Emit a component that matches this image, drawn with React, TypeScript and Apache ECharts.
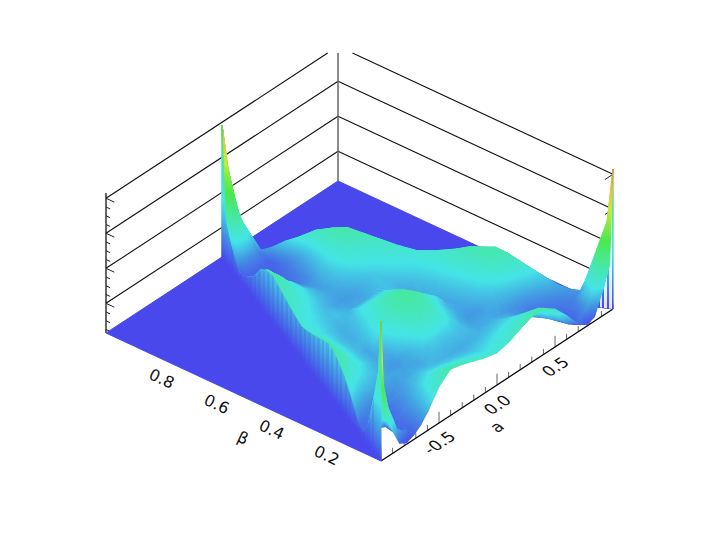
import React, { useEffect, useRef } from "react";
import * as echarts from "echarts";

// --- axis labels and ticks -------------------------------------------------
const aTickLabels = ["-0.5", "0.0", "0.5"];
const aMajorTicks = [-0.5, 0, 0.5];
const aMinorTicks = [-0.9, -0.8, -0.7, -0.6, -0.4, -0.3, -0.2, -0.1, 0.1, 0.2, 0.3, 0.4, 0.6, 0.7, 0.8, 0.9];
const betaTickLabels = ["0.8", "0.6", "0.4", "0.2"];
const betaTicks = [0.8, 0.6, 0.4, 0.2];
const zMajorTicks = [0.212, 0.462, 0.7125, 0.9625];
const zMinorTicks = [0.025, 0.0875, 0.15, 0.275, 0.3375, 0.4, 0.525, 0.5875, 0.65, 0.775, 0.8375, 0.9];

// --- surface samples: rows are beta, columns run across the triangle (u) ---
const betaRows = [0, 0.015, 0.04, 0.08, 0.11, 0.14, 0.17, 0.2, 0.235, 0.27, 0.3, 0.33, 0.365, 0.4, 0.45, 0.5, 0.55, 0.6, 0.64, 0.68, 0.72, 0.76, 0.8, 0.84, 0.87, 0.9, 0.95, 0.98, 1];
const uCols = [0, 0.015, 0.04, 0.08, 0.11, 0.14, 0.17, 0.2, 0.25, 0.3, 0.35, 0.4, 0.45, 0.5, 0.55, 0.6, 0.65, 0.7, 0.75, 0.8, 0.83, 0.86, 0.89, 0.92, 0.96, 0.985, 1];
const zRows = [
  [1, .30, .20, .04, .01, .03, .07, .13, .26, .33, .31, .28, .25, .23, .25, .29, .325, .33, .27, .17, .10, .04, .01, .03, .20, .33, 1],
  [.62, .55, .32, .12, .07, .035, .07, .13, .25, .32, .30, .27, .24, .225, .24, .27, .30, .32, .25, .13, .07, .035, .07, .12, .32, .55, .62],
  [.42, .33, .19, .07, .04, .045, .074, .122, .226, .282, .266, .242, .218, .202, .218, .242, .266, .282, .226, .122, .074, .045, .04, .07, .19, .33, .42],
  [.14, .12, .08, .05, .045, .055, .079, .112, .184, .222, .211, .195, .178, .167, .178, .195, .211, .222, .184, .112, .079, .055, .045, .05, .07, .09, .10],
  [.04, .04, .06, .04, .045, .05, .07, .10, .15, .181, .174, .162, .151, .143, .151, .162, .174, .181, .15, .10, .07, .055, .05, .06, .08, .095, .10],
  [.05, .05, .06, .055, .055, .063, .08, .097, .13, .15, .145, .137, .13, .125, .13, .137, .145, .15, .13, .097, .08, .063, .065, .08, .10, .115, .12],
  [.12, .115, .095, .085, .083, .088, .09, .098, .116, .126, .123, .143, .144, .141, .144, .143, .123, .126, .116, .098, .09, .088, .09, .11, .135, .155, .16],
  [.20, .195, .165, .14, .14, .13, .122, .12, .118, .115, .118, .152, .168, .166, .168, .152, .118, .115, .118, .12, .122, .13, .14, .155, .18, .195, .20],
  [.27, .26, .235, .204, .185, .166, .15, .132, .105, .10, .13, .18, .235, .25, .235, .18, .13, .10, .105, .132, .15, .166, .19, .21, .235, .25, .25],
  [.32, .31, .285, .244, .22, .193, .165, .143, .117, .12, .165, .215, .285, .30, .285, .215, .165, .12, .117, .143, .165, .193, .225, .25, .285, .295, .30],
  [.35, .34, .30, .256, .218, .19, .165, .145, .12, .14, .195, .25, .31, .33, .31, .25, .195, .14, .12, .145, .165, .19, .218, .256, .30, .325, .33],
  [.355, .345, .30, .25, .217, .19, .166, .144, .12, .18, .23, .28, .33, .355, .33, .28, .23, .18, .12, .144, .166, .19, .217, .25, .29, .315, .32],
  [.33, .32, .285, .24, .21, .185, .162, .144, .139, .165, .22, .265, .31, .33, .31, .265, .22, .165, .139, .144, .162, .185, .21, .24, .275, .30, .31],
  [.30, .295, .27, .229, .20, .177, .157, .141, .13, .15, .19, .24, .28, .29, .28, .24, .19, .15, .13, .141, .157, .177, .20, .229, .26, .275, .28],
  [.26, .255, .235, .207, .19, .175, .16, .147, .13, .14, .157, .20, .20, .20, .20, .20, .157, .14, .13, .147, .16, .175, .19, .207, .23, .248, .25],
  [.23, .228, .22, .20, .195, .186, .176, .165, .15, .155, .143, .132, .123, .125, .123, .132, .143, .155, .15, .165, .176, .186, .195, .20, .22, .228, .23],
  [.25, .25, .24, .227, .216, .204, .193, .18, .164, .144, .13, .115, .108, .105, .108, .115, .13, .144, .164, .18, .193, .204, .216, .227, .24, .25, .25],
  [.28, .278, .27, .26, .246, .23, .222, .21, .19, .168, .15, .134, .123, .118, .123, .134, .15, .168, .19, .21, .222, .23, .246, .26, .27, .278, .28],
  [.305, .305, .29, .284, .27, .26, .245, .234, .208, .182, .158, .14, .12, .11, .12, .14, .158, .182, .208, .234, .245, .26, .27, .284, .29, .305, .305],
  [.33, .33, .325, .306, .287, .267, .244, .224, .20, .173, .145, .12, .105, .095, .105, .12, .145, .173, .20, .224, .244, .267, .287, .306, .325, .33, .33],
  [.31, .31, .30, .274, .253, .226, .20, .18, .15, .127, .103, .08, .078, .07, .078, .08, .103, .127, .15, .18, .20, .226, .253, .274, .30, .31, .31],
  [.257, .25, .235, .205, .18, .16, .14, .125, .105, .085, .07, .06, .052, .05, .052, .06, .07, .085, .105, .125, .14, .16, .18, .205, .26, .28, .28],
  [.15, .145, .13, .115, .105, .095, .085, .075, .065, .055, .048, .042, .04, .04, .04, .042, .048, .055, .065, .075, .085, .10, .115, .14, .19, .215, .22],
  [.09, .085, .07, .055, .05, .048, .045, .04, .035, .03, .03, .03, .03, .03, .03, .03, .03, .03, .035, .04, .045, .06, .07, .09, .13, .16, .17],
  [.05, .05, .04, .03, .03, .03, .032, .034, .036, .04, .04, .04, .04, .04, .04, .04, .04, .04, .036, .034, .032, .04, .05, .06, .09, .11, .12],
  [.04, .04, .05, .06, .065, .07, .075, .08, .085, .09, .09, .09, .09, .09, .09, .09, .09, .09, .085, .08, .075, .07, .065, .06, .07, .08, .085],
  [.18, .20, .22, .26, .28, .30, .32, .33, .35, .36, .37, .38, .38, .38, .38, .38, .37, .36, .35, .33, .32, .30, .28, .27, .27, .28, .28],
  [.30, .33, .38, .45, .49, .52, .54, .56, .60, .62, .64, .65, .655, .66, .655, .65, .64, .62, .60, .56, .54, .52, .49, .47, .47, .49, .50],
  [.94, .94, .94, .94, .94, .94, .94, .94, .94, .94, .94, .94, .94, .94, .94, .94, .94, .94, .94, .94, .94, .94, .94, .94, .94, .94, .94],
];

const colorStops = [
  { offset: 0, color: "#4848EC" },
  { offset: 0.1, color: "#4298E2" },
  { offset: 0.2, color: "#44E4E6" },
  { offset: 0.33, color: "#46E8A8" },
  { offset: 0.5, color: "#4CE84C" },
  { offset: 0.7, color: "#C8E83C" },
  { offset: 0.85, color: "#EEC040" },
  { offset: 1, color: "#EE8040" },
];

// --- oblique projection of the box (a, beta, z) onto the page ---------------
const F = [381, 461];
const R = [613, 309];
const L = [106, 333];
const Z_PX = 140;
const CLIP_TOP = 53;
function floorY(a: number, b: number) {
  const t = (a + 1) / 2;
  return F[1] + t * (R[1] - F[1]) + b * (L[1] - F[1]);
}
function project(a: number, b: number, z: number) {
  const t = (a + 1) / 2;
  return [F[0] + t * (R[0] - F[0]) + b * (L[0] - F[0]), floorY(a, b) - z * Z_PX];
}
function clipLine(p: number[], q: number[]) {
  const clip = (from: number[], to: number[]) => {
    if (to[1] >= CLIP_TOP) return to;
    const k = (CLIP_TOP - from[1]) / (to[1] - from[1]);
    return [from[0] + k * (to[0] - from[0]), CLIP_TOP];
  };
  return p[1] < CLIP_TOP ? [clip(q, p), q] : [p, clip(p, q)];
}

type V = { p: number[]; z: number; fy: number };
function vert(a: number, b: number, z: number, colorValue = z): V {
  return { p: project(a, b, z), z: colorValue, fy: floorY(a, b) };
}
function colorAt(z: number) {
  for (let i = 1; i < colorStops.length; i++) {
    if (z <= colorStops[i].offset) {
      const s0 = colorStops[i - 1], s1 = colorStops[i];
      const k = (z - s0.offset) / (s1.offset - s0.offset);
      const h = (c: string, o: number) => parseInt(c.substr(o, 2), 16);
      const ch = (o: number) => Math.round(h(s0.color, o) + k * (h(s1.color, o) - h(s0.color, o)));
      return `rgb(${ch(1)},${ch(3)},${ch(5)})`;
    }
  }
  return colorStops[colorStops.length - 1].color;
}
function shaded(v: V[]) {
  const [A, B, C] = v;
  const ux = B.p[0] - A.p[0], uy = B.p[1] - A.p[1];
  const wx = C.p[0] - A.p[0], wy = C.p[1] - A.p[1];
  const det = ux * wy - uy * wx;
  if (Math.abs(det) < 1e-3) return null;
  const dz1 = B.z - A.z, dz2 = C.z - A.z;
  const gx = (dz1 * wy - dz2 * uy) / det;
  const gy = (dz2 * ux - dz1 * wx) / det;
  const g2 = gx * gx + gy * gy;
  let fill: any;
  if (g2 < 1e-9) {
    fill = colorAt((A.z + B.z + C.z) / 3);
  } else {
    const x0 = A.p[0] - (A.z * gx) / g2, y0 = A.p[1] - (A.z * gy) / g2;
    const x1 = A.p[0] + ((1 - A.z) * gx) / g2, y1 = A.p[1] + ((1 - A.z) * gy) / g2;
    fill = new echarts.graphic.LinearGradient(x0, y0, x1, y1, colorStops, true);
  }
  return { type: "polygon", points: v.map((q) => q.p), fill, depth: (A.fy + B.fy + C.fy) / 3 };
}
function stripes(x0: number, x1: number, period: number, color: string) {
  const n = Math.round((x1 - x0) / period);
  const stops: any[] = [];
  for (let i = 0; i < n; i++) {
    stops.push({ offset: i / n, color }, { offset: (i + 0.5) / n, color });
    stops.push({ offset: (i + 0.5) / n, color: "rgba(255,255,255,0)" }, { offset: (i + 1) / n, color: "rgba(255,255,255,0)" });
  }
  return new echarts.graphic.LinearGradient(x0, 0, x1, 0, stops, true);
}

function buildMarks() {
  const marks: any[] = [];
  const line = (p: number[], q: number[], stroke: string, lineWidth = 1) => {
    const [s, e] = clipLine(p, q);
    marks.push({ type: "line", s, e, stroke, lineWidth });
  };
  for (const z of zMajorTicks) {
    line(project(-1, 1, z), project(1, 1, z), "#111", 1.1);
    line(project(1, 1, z), project(1, 0, z), "#111", 1.1);
  }
  line(project(1, 1, 0), project(1, 1, 1), "#666", 1.5);
  line(project(-1, 1, 0), project(-1, 1, 1), "#000", 1.2);
  line(project(1, 0, 0), project(1, 0, 1), "#bbb", 1);
  for (const z of zMajorTicks) line(project(-1, 1, z), project(-1, 0.97, z), "#222");
  for (const z of zMinorTicks) line(project(-1, 1, z), project(-1, 0.985, z), "#222");
  for (const z of zMajorTicks) line(project(1, 0, z), project(0.93, 0, z), "#222");
  for (const a of aMajorTicks) line(project(a, 0, 0), project(a, 0, 0.08), "#666");
  for (const a of aMinorTicks) line(project(a, 0, 0), project(a, 0, 0.04), "#666");
  line(project(-1, 0, 0), project(1, 0, 0), "#000", 1.2);
  const floor = (pts: number[][]) => marks.push({ type: "polygon", points: pts, fill: colorStops[0].color, stroke: colorStops[0].color });
  floor([project(-1, 1, 0), project(-1, 0, 0), project(0, 1, 0)]);
  floor([project(0, 1, 0), project(1, 1, 0), project(1, 0, 0)]);

  const pos = (r: number, c: number) => (1 - betaRows[r]) * (2 * uCols[c] - 1);
  const nR = betaRows.length, nC = uCols.length;
  const wallTris = (col: number) => {
    const out: any[] = [];
    for (let r = 0; r < nR - 1; r++) {
      const a0 = pos(r, col), a1 = pos(r + 1, col);
      const z0 = zRows[r][col], z1 = zRows[r + 1][col];
      const t0 = vert(a0, betaRows[r], z0, z0 * 0.5), t1 = vert(a1, betaRows[r + 1], z1, z1 * 0.5);
      const b0 = vert(a0, betaRows[r], 0), b1 = vert(a1, betaRows[r + 1], 0);
      for (const tri of [[b0, t0, t1], [b0, t1, b1]]) {
        const m = shaded(tri);
        if (m) out.push(m);
      }
    }
    out.sort((p, q) => p.depth - q.depth);
    return out;
  };
  const wallOutline = (col: number, from: number, to: number) => {
    const top: number[][] = [], bottom: number[][] = [];
    for (let r = from; r <= to; r++) {
      top.push(project(pos(r, col), betaRows[r], zRows[r][col]));
      bottom.unshift(project(pos(r, col), betaRows[r], 0));
    }
    return [...top, ...bottom];
  };
  marks.push(...wallTris(nC - 1));
  marks.push({ type: "polygon", points: wallOutline(nC - 1, 0, 3), fill: stripes(590, 614, 4.6, "rgba(255,255,255,0.85)"), stroke: "none" });
  const tris: any[] = [];
  for (let r = 0; r < nR - 1; r++) {
    for (let c = 0; c < nC - 1; c++) {
      const v00 = vert(pos(r, c), betaRows[r], zRows[r][c]);
      const v01 = vert(pos(r, c + 1), betaRows[r], zRows[r][c + 1]);
      const v10 = vert(pos(r + 1, c), betaRows[r + 1], zRows[r + 1][c]);
      const v11 = vert(pos(r + 1, c + 1), betaRows[r + 1], zRows[r + 1][c + 1]);
      for (const tri of [[v00, v01, v11], [v00, v11, v10]]) {
        const m = shaded(tri);
        if (m) tris.push(m);
      }
    }
  }
  tris.sort((p, q) => p.depth - q.depth);
  marks.push(...tris);
  marks.push(...wallTris(0));
  marks.push({ type: "polygon", points: wallOutline(0, 2, nR - 3), fill: stripes(222, 381, 4.6, "rgba(72,72,236,0.22)"), stroke: "none" });
  aTickLabels.forEach((text, i) => {
    const p = project(aMajorTicks[i], 0, 0);
    marks.push({ type: "text", text, x: p[0] + 0.5, y: p[1] + 20, rotation: 0.58, skewX: 0.3 });
  });
  const ap = project(0, 0, 0);
  marks.push({ type: "text", text: "a", x: ap[0], y: ap[1] + 42, rotation: 0.58, skewX: 0.3 });
  betaTickLabels.forEach((text, i) => {
    const p = project(-1, betaTicks[i], 0);
    marks.push({ type: "text", text, x: p[0] + 0.7, y: p[1] + 20, rotation: -0.44 });
  });
  const bp = project(-1, 0.5, 0);
  marks.push({ type: "text", text: "β", x: bp[0] - 0.5, y: bp[1] + 41, rotation: -0.44 });
  return marks;
}

export default function App() {
  const ref = useRef<HTMLDivElement>(null);
  useEffect(() => {
    document.body.style.margin = "0";
    const chart = echarts.init(ref.current!, undefined, { renderer: "svg" });
    const marks = buildMarks();
    chart.setOption({
      animation: false,
      backgroundColor: "#fff",
      series: [
        {
          type: "custom",
          coordinateSystem: "none",
          silent: true,
          clip: false,
          data: marks.map((_, i) => [i]),
          renderItem: (params: any) => {
            const m = marks[params.dataIndex];
            const z2 = params.dataIndex;
            if (m.type === "line") {
              return {
                type: "line",
                z2,
                shape: { x1: m.s[0], y1: m.s[1], x2: m.e[0], y2: m.e[1] },
                style: { stroke: m.stroke, lineWidth: m.lineWidth },
              };
            }
            if (m.type === "polygon") {
              return {
                type: "polygon",
                z2,
                shape: { points: m.points },
                style: { fill: m.fill, stroke: m.stroke || m.fill, lineWidth: 1, lineJoin: "round" },
              };
            }
            return {
              type: "text",
              z2,
              x: m.x,
              y: m.y,
              rotation: m.rotation,
              skewX: m.skewX || 0,
              style: {
                text: m.text,
                fill: "#111",
                font: `16px "DejaVu Sans"`,
                align: "center",
                verticalAlign: "middle",
              },
            };
          },
        },
      ],
    });
    return () => chart.dispose();
  }, []);
  return <div ref={ref} style={{ position: "absolute", left: 0, top: 0, width: 720, height: 540 }} />;
}
